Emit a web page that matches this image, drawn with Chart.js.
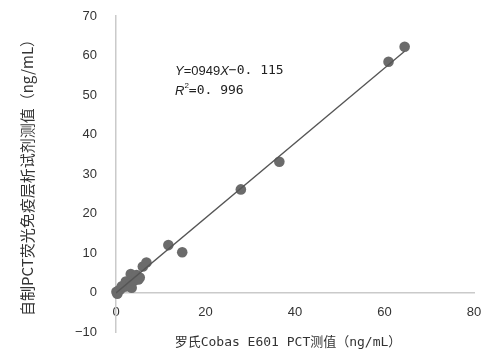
<!DOCTYPE html>
<html>
<head>
<meta charset="utf-8">
<script src="https://cdn.jsdelivr.net/npm/chart.js@4"></script>
<style>
  html, body { margin: 0; padding: 0; background: #fff; }
  #wrap { width: 485px; height: 359px; }
</style>
</head>
<body>
<div id="wrap"><canvas id="pctChart" width="485" height="359"></canvas></div>
<script>
  // Roche Cobas E601 vs in-house PCT kit (ng/mL)
  const pctRoche = [0.1, 0.3, 0.6, 1.0, 1.3, 2.0, 2.2, 2.8, 3.2, 3.5, 3.3, 4.0, 4.6, 5.0, 5.3, 6.0, 6.8, 11.7, 14.8, 27.9, 36.5, 60.9, 64.5];
  const pctKit   = [0.2, -0.3, 0.5, 0.8, 1.6, 1.5, 2.8, 1.6, 2.2, 1.2, 4.7, 3.0, 4.4, 3.3, 3.8, 6.6, 7.6, 12.0, 10.2, 26.1, 33.1, 58.4, 62.2];

  // trend line end points
  const trendX = [0, 64.5];
  const trendY = [-0.1, 61.1];

  const xTicks = [0, 20, 40, 60, 80];
  const yTicks = [-10, 0, 10, 20, 30, 40, 50, 60, 70];

  const xTitle = '罗氏Cobas E601 PCT测值（ng/mL）';
  const yTitle = '自制PCT荧光免疫层析试剂测值（ng/mL）';
  const eqLine1 = ['Y', '=0949', 'X', '−0. 115'];
  const eqLine2 = ['R', '2', '=0. 996'];

  const axisColor = '#cacaca';
  const textColor = '#333';

  // equation + x axis title, drawn on top
  const labelsPlugin = {
    id: 'labels',
    afterDraw(chart) {
      const ctx = chart.ctx;
      const area = chart.chartArea;
      ctx.save();
      ctx.fillStyle = '#222';
      ctx.textBaseline = 'middle';
      let x = 175;
      const fonts1 = ['italic 13px "Liberation Sans"', '13px "Liberation Sans"', 'italic 13px "Liberation Sans"', '13px "DejaVu Sans Mono"'];
      eqLine1.forEach((t, i) => {
        ctx.font = fonts1[i];
        ctx.fillText(t, x, 71);
        x += ctx.measureText(t).width;
      });
      x = 175;
      ctx.font = 'italic 13px "Liberation Sans"';
      ctx.fillText(eqLine2[0], x, 91);
      x += ctx.measureText(eqLine2[0]).width;
      ctx.font = '8px "Liberation Sans"';
      ctx.fillText(eqLine2[1], x, 86);
      x += ctx.measureText(eqLine2[1]).width;
      ctx.font = '13px "DejaVu Sans Mono"';
      ctx.fillText(eqLine2[2], x, 91);

      // x axis title, centred on the plot area
      ctx.fillStyle = textColor;
      ctx.textAlign = 'center';
      ctx.font = '13px "DejaVu Sans Mono", "Noto Sans CJK SC"';
      ctx.fillText(xTitle, (area.left + area.right) / 2 - 7, 343);
      ctx.restore();
    }
  };

  const ctx = document.getElementById('pctChart').getContext('2d');
  const pctChart = new Chart(ctx, {
    type: 'scatter',
    data: {
      datasets: [{
        label: 'trend',
        type: 'line',
        data: trendX.map((x, i) => ({ x: x, y: trendY[i] })),
        borderColor: '#555',
        borderWidth: 1.3,
        pointRadius: 0,
        fill: false,
        order: 0,
      }, {
        label: 'PCT',
        data: pctRoche.map((x, i) => ({ x: x, y: pctKit[i] })),
        backgroundColor: '#6b6b6b',
        borderColor: '#6b6b6b',
        borderWidth: 0,
        pointRadius: 5.3,
        clip: false,
        order: 1,
      }]
    },
    options: {
      responsive: false,
      animation: false,
      layout: {
        padding: { top: 16, right: 11, bottom: 27, left: 0 }
      },
      plugins: {
        legend: { display: false },
        tooltip: { enabled: false }
      },
      scales: {
        x: {
          type: 'linear',
          position: { y: 0 },
          min: 0,
          max: 80,
          afterBuildTicks: (s) => { s.ticks = xTicks.map(v => ({ value: v })); },
          grid: { display: false, drawTicks: true, tickLength: 12, tickColor: 'rgba(0,0,0,0)' },
          border: { display: true, color: axisColor, width: 1.5 },
          ticks: {
            color: textColor,
            padding: 0,
            font: { family: '"Liberation Sans"', size: 13 }
          }
        },
        y: {
          type: 'linear',
          min: -10,
          max: 70,
          afterBuildTicks: (s) => { s.ticks = yTicks.map(v => ({ value: v })); },
          afterFit: (s) => { s.width = 116; },
          grid: { display: false, drawTicks: true, tickLength: 19, tickColor: 'rgba(0,0,0,0)' },
          border: { display: true, color: axisColor, width: 1.5 },
          ticks: {
            color: textColor,
            padding: 0,
            font: { family: '"Liberation Sans"', size: 13 },
            callback: (v) => String(v).replace('-', '−')
          },
          title: {
            display: true,
            text: yTitle,
            color: textColor,
            font: { family: '"Noto Sans CJK SC"', size: 15 },
            padding: { top: 18, bottom: 0 }
          }
        }
      }
    },
    plugins: [labelsPlugin]
  });
</script>
</body>
</html>
